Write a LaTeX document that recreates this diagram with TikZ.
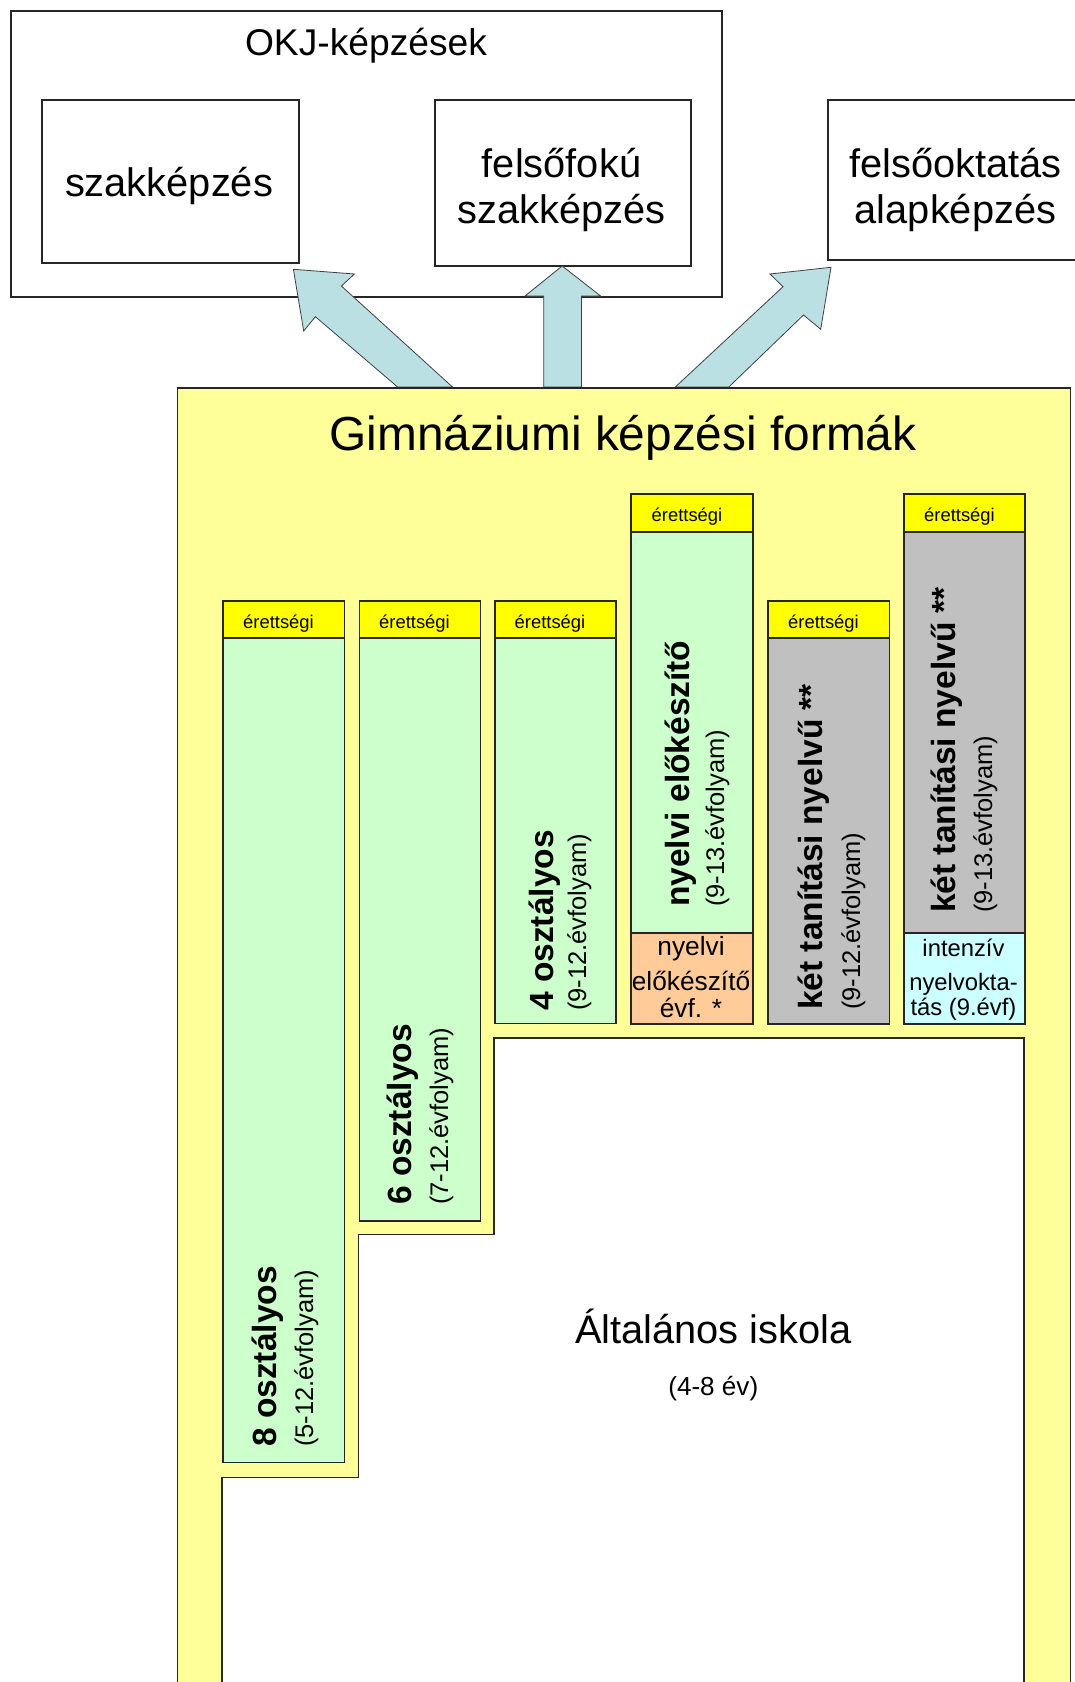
\documentclass[tikz,border=0pt]{standalone}
\usepackage{fontspec}
\newfontfamily\hf{Liberation Sans}
\newfontfamily\rf{Liberation Sans}
\newfontfamily\rbf{Liberation Sans}
\definecolor{ylw}{HTML}{FFFF99}
\definecolor{band}{HTML}{FFFF00}
\definecolor{grn}{HTML}{CCFFCC}
\definecolor{gry}{HTML}{C0C0C0}
\definecolor{org}{HTML}{FFCC99}
\definecolor{cyn}{HTML}{CCFFFF}
\definecolor{arrowc}{HTML}{BBE0E3}
\begin{document}
\begin{tikzpicture}[x=1pt,y=-1pt,
  bx/.style={draw=black!85,line width=1.5pt,inner sep=0pt,anchor=north west},
  arr/.style={draw=black!75,line width=0.8pt,fill=arrowc,line join=miter},
  tx/.style={inner sep=0pt,anchor=base},
  rt/.style={inner sep=0pt,rotate=90,anchor=base west},
  rbold/.style={rt,font=\rbf\bfseries\fontsize{33.5}{36}\selectfont},
  rreg/.style={rt,font=\rf\fontsize{25.5}{28}\selectfont},
  big/.style={tx,font=\hf\fontsize{39.8}{44}\selectfont},
  eret/.style={tx,font=\hf\fontsize{18.4}{20}\selectfont},
  small/.style={tx,font=\hf\fontsize{26.3}{29}\selectfont},
  smaller/.style={tx,font=\hf\fontsize{23.8}{27}\selectfont}]
\useasboundingbox (0,0) rectangle (1075,1682);
\fill[white] (0,0) rectangle (1075,1682);

% upper boxes
\node[bx,fill=white,minimum width=711pt,minimum height=286pt] (okj) at (10,10) {};
\node[bx,fill=white,minimum width=257pt,minimum height=163pt] (szak) at (41,99) {};
\node[bx,fill=white,minimum width=256pt,minimum height=166pt] (fszak) at (434,99) {};
\node[bx,fill=white,minimum width=260pt,minimum height=160pt] (fokt) at (827,99) {};

\node[tx,font=\hf\fontsize{37.2}{40}\selectfont] (okjt) at (366,55) {OKJ-képzések};
\node[big] (szakt) at (169,196) {szakképzés};
\node[big] (fszakt1) at (561.5,177) {felsőfokú};
\node[big] (fszakt2) at (561.5,223) {szakképzés};
\node[big] (fokt1) at (955.5,177) {felsőoktatás};
\node[big] (fokt2) at (955.5,223) {alapképzés};

% block arrows
\draw[arr] (397.6,387) -- (315.4,316.7) -- (303.7,331) -- (293.4,269.3) -- (354.4,274) -- (341.4,286) -- (452.5,387) -- cycle;
\draw[arr] (543.7,387) -- (543.7,296) -- (525,296) -- (562.2,266) -- (600.6,296) -- (581.4,296) -- (581.4,387) -- cycle;
\draw[arr] (675.3,387) -- (783,286.7) -- (770,274) -- (831,267.3) -- (820.7,329.3) -- (803.5,315) -- (728.8,387) -- cycle;

% yellow frame
\node[bx,fill=ylw,minimum width=893pt,minimum height=1330pt] (gimn) at (176.5,387) {};
\node[tx,font=\hf\fontsize{47.8}{52}\selectfont] (gimnt) at (623,450) {Gimnáziumi képzési formák};

% columns
\node[bx,fill=band,minimum width=121.5pt,minimum height=37pt] (e1) at (222,600) {};
\node[bx,fill=grn,minimum width=121.5pt,minimum height=824.5pt] (c1) at (222,637) {};
\node[bx,fill=band,minimum width=121pt,minimum height=37pt] (e2) at (358.5,600) {};
\node[bx,fill=grn,minimum width=121pt,minimum height=583pt] (c2) at (358.5,637) {};
\node[bx,fill=band,minimum width=121pt,minimum height=37pt] (e3) at (494,600) {};
\node[bx,fill=grn,minimum width=121pt,minimum height=385.5pt] (c3) at (494,637) {};
\node[bx,fill=band,minimum width=122pt,minimum height=38pt] (e4) at (630,493) {};
\node[bx,fill=grn,minimum width=122pt,minimum height=401pt] (c4) at (630,531) {};
\node[bx,fill=org,minimum width=122pt,minimum height=91pt] (c4b) at (630,932) {};
\node[bx,fill=band,minimum width=121.5pt,minimum height=37pt] (e5) at (767,600) {};
\node[bx,fill=gry,minimum width=121.5pt,minimum height=386pt] (c5) at (767,637) {};
\node[bx,fill=band,minimum width=121pt,minimum height=38pt] (e6) at (903,493) {};
\node[bx,fill=gry,minimum width=121pt,minimum height=401pt] (c6) at (903,531) {};
\node[bx,fill=cyn,minimum width=121pt,minimum height=91pt] (c6b) at (903,932) {};

% érettségi labels
\node[eret] (et1) at (278.5,628) {érettségi};
\node[eret] (et2) at (414.5,628) {érettségi};
\node[eret] (et3) at (550,628) {érettségi};
\node[eret] (et4) at (687,521) {érettségi};
\node[eret] (et5) at (823.5,628) {érettségi};
\node[eret] (et6) at (959.5,521) {érettségi};

% general school
\draw[draw=black!85,line width=1.5pt,fill=white] (222,1720) -- (222,1477.5) -- (358.5,1477.5) -- (358.5,1234.5) -- (494,1234.5) -- (494,1038) -- (1024,1038) -- (1024,1720) -- cycle;
\node[big] (alt) at (713.3,1343.3) {Általános iskola};
\node[tx,font=\hf\fontsize{26.1}{29}\selectfont] (alt2) at (713.3,1395) {(4-8 év)};

% rotated labels
\node[rbold] (r1a) at (276,1447) {8 osztályos};
\node[rreg]  (r1b) at (313,1447) {(5-12.évfolyam)};
\node[rbold] (r2a) at (411,1205) {6 osztályos};
\node[rreg]  (r2b) at (448,1205) {(7-12.évfolyam)};
\node[rbold] (r3a) at (553,1011) {4 osztályos};
\node[rreg]  (r3b) at (586,1011) {(9-12.évfolyam)};
\node[rbold] (r4a) at (689,907) {nyelvi előkészítő};
\node[rreg]  (r4b) at (724,907) {(9-13.évfolyam)};
\node[rbold] (r5a) at (822,1010) {két tanítási nyelvű **};
\node[rreg]  (r5b) at (860,1010) {(9-12.évfolyam)};
\node[rbold] (r6a) at (955,913) {két tanítási nyelvű **};
\node[rreg]  (r6b) at (992,913) {(9-13.évfolyam)};

% lower small boxes text
\node[small] (n1) at (691,955) {nyelvi};
\node[small] (n2) at (691,990) {előkészítő};
\node[small] (n3) at (691,1017) {évf. *};
\node[smaller] (i1) at (963.5,956) {intenzív};
\node[smaller] (i2) at (963.5,990) {nyelvokta-};
\node[smaller] (i3) at (963.5,1015) {tás (9.évf)};
\end{tikzpicture}
\end{document}
